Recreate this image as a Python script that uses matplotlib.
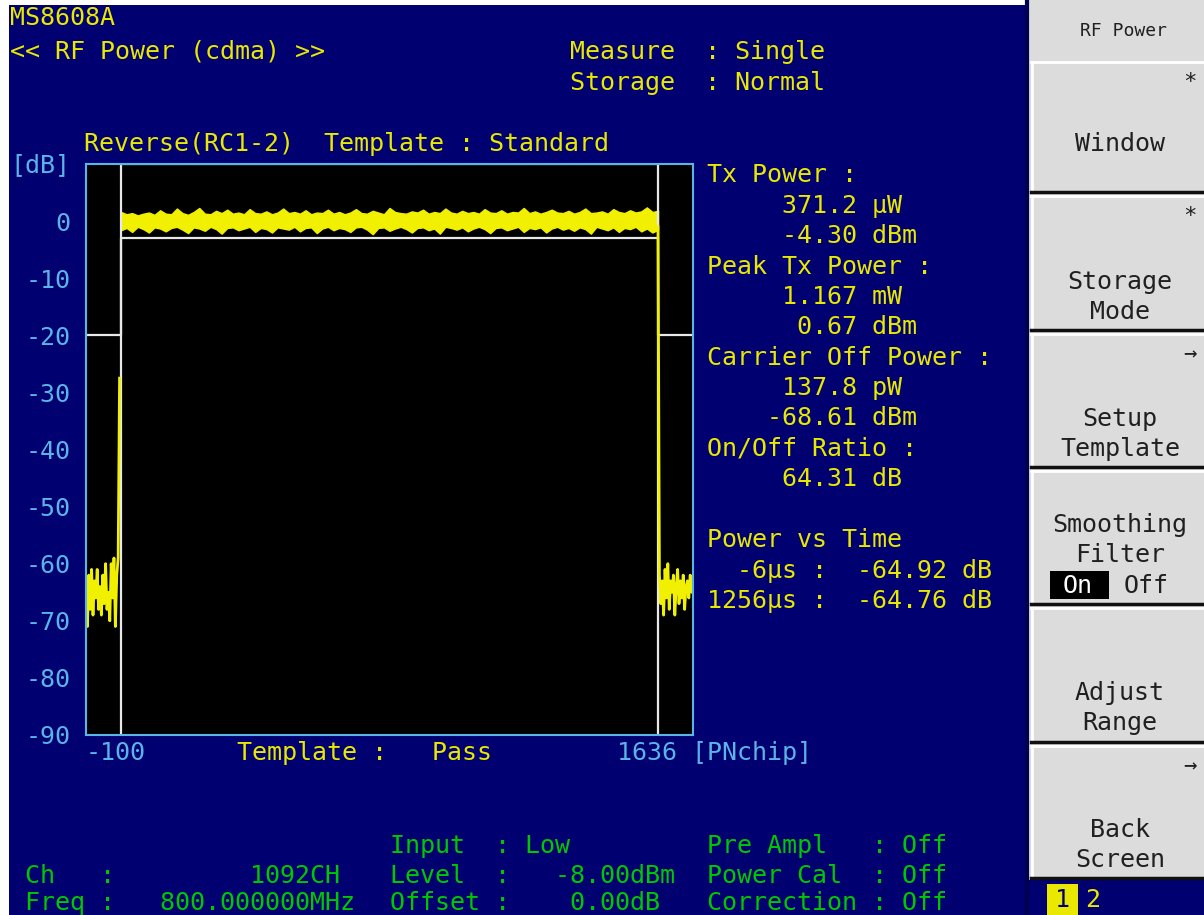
import numpy as np
import matplotlib.pyplot as plt
from matplotlib.patches import Rectangle
from matplotlib.lines import Line2D

W, H = 1204, 915

# trace (PN chip, dB)
off_left_chip = np.arange(-100, -3, 4)
off_left_db = [-63, -71, -62, -68, -61, -69, -63, -66, -61, -68,
               -64, -69, -62, -67, -60, -68, -65, -70, -60, -66,
               -59, -71, -62, -59, -27.5]

on_chip = np.arange(0, 1537, 16)
on_upper_db = [1.6, 1.2, 1.4, 1.0, 1.3, 1.5, 1.1, 1.9, 1.3, 1.2,
               2.2, 1.4, 1.1, 1.6, 2.3, 1.3, 1.2, 1.8, 1.4, 2.0,
               1.3, 1.5, 1.2, 2.1, 1.4, 1.3, 1.7, 1.2, 1.5, 2.2,
               1.4, 1.6, 1.3, 1.9, 1.2, 1.5, 1.4, 2.0, 1.3, 1.6,
               1.2, 1.5, 2.1, 1.4, 1.3, 1.8, 1.5, 1.2, 2.3, 1.6,
               1.4, 1.3, 1.7, 1.5, 2.0, 1.3, 1.6, 1.4, 2.2, 1.5,
               1.3, 1.8, 1.4, 1.6, 1.3, 2.1, 1.5, 1.4, 1.9, 1.3,
               1.6, 1.5, 2.3, 1.4, 1.7, 1.3, 1.6, 2.0, 1.5, 1.4,
               1.8, 1.3, 1.6, 2.2, 1.4, 1.5, 1.7, 1.3, 2.1, 1.6,
               1.4, 1.9, 1.5, 1.7, 2.4, 1.6, 1.8]
on_lower_db = [-1.6, -1.2, -1.9, -1.0, -1.4, -2.0, -1.1, -1.3, -1.8, -1.2,
               -1.0, -1.5, -2.1, -1.1, -1.3, -1.7, -1.0, -1.4, -2.2, -1.2,
               -1.1, -1.6, -1.3, -1.0, -1.9, -1.2, -1.4, -2.0, -1.1, -1.3,
               -1.5, -1.0, -1.8, -1.2, -1.1, -2.1, -1.3, -1.0, -1.6, -1.2,
               -1.4, -1.9, -1.1, -1.0, -1.5, -2.3, -1.2, -1.1, -1.7, -1.3,
               -1.0, -1.4, -2.0, -1.2, -1.1, -1.6, -1.3, -2.2, -1.0, -1.2,
               -1.5, -1.1, -1.8, -1.3, -1.0, -1.4, -2.1, -1.2, -1.1, -1.6,
               -1.3, -1.0, -1.9, -1.2, -1.4, -1.1, -2.0, -1.3, -1.0, -1.5,
               -1.2, -1.7, -1.1, -1.4, -2.2, -1.0, -1.3, -1.6, -1.1, -1.9,
               -1.2, -1.4, -1.0, -1.8, -1.3, -2.0, -1.5]

off_right_chip = np.arange(1536, 1637, 4)
off_right_db = [-1.0, -62, -67, -63, -69, -61, -66, -60, -68, -63,
                -65, -62, -69, -64, -61, -67, -63, -66, -62, -68,
                -64, -63, -66, -62, -65, -63]

# template mask
upper_mask_chip = [-100, 0, 0, 1536, 1536, 1636]
upper_mask_db = [-20, -20, 10, 10, -20, -20]
lower_mask_chip = [0, 0, 1536, 1536]
lower_mask_db = [-90, -3, -3, -90]

y_ticks = list(range(-90, 1, 10))

BLUE = '#000070'
YEL = '#e8e800'
TRACE = '#f0f000'
CYAN = '#5ab4e6'
GRN = '#00c800'
GRAY = '#dcdcdc'
DARK = '#202020'
MONO = 'DejaVu Sans Mono'

fig = plt.figure(figsize=(W / 100, H / 100), dpi=100, facecolor='white')


def txt(x, y, s, color=YEL, size=18, ha='left'):
    fig.text(x / W, 1 - y / H, s, color=color, fontsize=size, ha=ha,
             va='center', family=MONO, zorder=5)


def box(x0, y0, x1, y1, color, z=-1):
    fig.add_artist(Rectangle((x0 / W, 1 - y1 / H), (x1 - x0) / W, (y1 - y0) / H,
                             transform=fig.transFigure, facecolor=color,
                             edgecolor='none', zorder=z))


def hline(x0, x1, y, color, lw):
    fig.add_artist(Line2D([x0 / W, x1 / W], [1 - y / H, 1 - y / H],
                          transform=fig.transFigure, color=color, lw=lw, zorder=1))


def vline(x, y0, y1, color, lw):
    fig.add_artist(Line2D([x / W, x / W], [1 - y0 / H, 1 - y1 / H],
                          transform=fig.transFigure, color=color, lw=lw, zorder=1))


# screen background
box(9, 5, 1029, 915, BLUE, z=-2)
box(1029, 0, 1204, 880, GRAY, z=-2)
box(1029, 880, 1204, 915, BLUE, z=-2)

# plot area
ax = fig.add_axes([86 / W, 1 - 735 / H, 607 / W, 571 / H])
ax.set_facecolor('black')
ax.plot(upper_mask_chip, upper_mask_db, color='#e8e8e8', lw=1.6)
ax.plot(lower_mask_chip, lower_mask_db, color='#e8e8e8', lw=1.6)
ax.fill_between(on_chip, on_lower_db, on_upper_db, color=TRACE, lw=1.0,
                edgecolor=TRACE)
ax.plot(off_left_chip, off_left_db, color=TRACE, lw=2.0)
ax.plot(off_right_chip, off_right_db, color=TRACE, lw=2.0)
ax.set_xlim(-100, 1636)
ax.set_ylim(-90, 10)
ax.set_xticks([])
ax.set_yticks(y_ticks)
ax.set_yticklabels([str(v) for v in y_ticks], color=CYAN, fontsize=18,
                   family=MONO)
ax.tick_params(axis='y', length=0, pad=11)
for sp in ax.spines.values():
    sp.set_color(CYAN)
    sp.set_linewidth(1.5)

# header texts
txt(10, 18, 'MS8608A')
txt(10, 52, '<< RF Power (cdma) >>')
txt(570, 52, 'Measure  : Single')
txt(570, 83, 'Storage  : Normal')
txt(84, 144, 'Reverse(RC1-2)  Template : Standard')
txt(10, 165, '[dB]', color=CYAN)
txt(86, 753, '-100', color=CYAN)
txt(617, 753, '1636 [PNchip]', color=CYAN)
txt(237, 753, 'Template :   Pass')

# results
results = [
    (707, 175, 'Tx Power :'),
    (782, 206, '371.2 µW'),
    (782, 236, '-4.30 dBm'),
    (707, 267, 'Peak Tx Power :'),
    (782, 297, '1.167 mW'),
    (782, 327, ' 0.67 dBm'),
    (707, 358, 'Carrier Off Power :'),
    (782, 388, '137.8 pW'),
    (767, 418, '-68.61 dBm'),
    (707, 449, 'On/Off Ratio :'),
    (782, 479, '64.31 dB'),
    (707, 540, 'Power vs Time'),
    (707, 571, '  -6µs :  -64.92 dB'),
    (707, 601, '1256µs :  -64.76 dB'),
]
for x, y, s in results:
    txt(x, y, s)

# bottom status
status = [
    (390, 846, 'Input  : Low'),
    (707, 846, 'Pre Ampl   : Off'),
    (25, 876, 'Ch   :         1092CH'),
    (390, 876, 'Level  :   -8.00dBm'),
    (707, 876, 'Power Cal  : Off'),
    (25, 903, 'Freq :   800.000000MHz'),
    (390, 903, 'Offset :    0.00dB'),
    (707, 903, 'Correction : Off'),
]
for x, y, s in status:
    txt(x, y, s, color=GRN)

# soft keys
vline(1027, 0, 915, '#000050', 3)
txt(1124, 31, 'RF Power', color=DARK, size=13, ha='center')
key_edges = [(62, 192), (196, 330), (334, 467), (471, 604), (608, 742), (746, 878)]
for top, bot in key_edges:
    hline(1031, 1204, top, 'white', 2)
    vline(1032, top, bot, 'white', 2)
    hline(1031, 1204, bot, '#101010', 2.5)

keys = [
    ('*', ['Window'], 144),
    ('*', ['Storage', 'Mode'], 282),
    ('→', ['Setup', 'Template'], 419),
    ('', ['Smoothing', 'Filter'], 525),
    ('', ['Adjust', 'Range'], 693),
    ('→', ['Back', 'Screen'], 830),
]
for (top, bot), (mark, lines, y0) in zip(key_edges, keys):
    if mark:
        txt(1190, top + 20, mark, color=DARK, size=16, ha='center')
    for i, s in enumerate(lines):
        txt(1120, y0 + 30 * i, s, color=DARK, ha='center')

box(1050, 571, 1109, 599, 'black', z=3)
txt(1063, 586, 'On', color='white')
txt(1124, 586, 'Off', color=DARK)

box(1047, 884, 1078, 915, YEL, z=3)
txt(1062, 900, '1', color=BLUE, ha='center')
txt(1085, 900, '2')

fig.savefig('out.png', dpi=100, facecolor=fig.get_facecolor())
